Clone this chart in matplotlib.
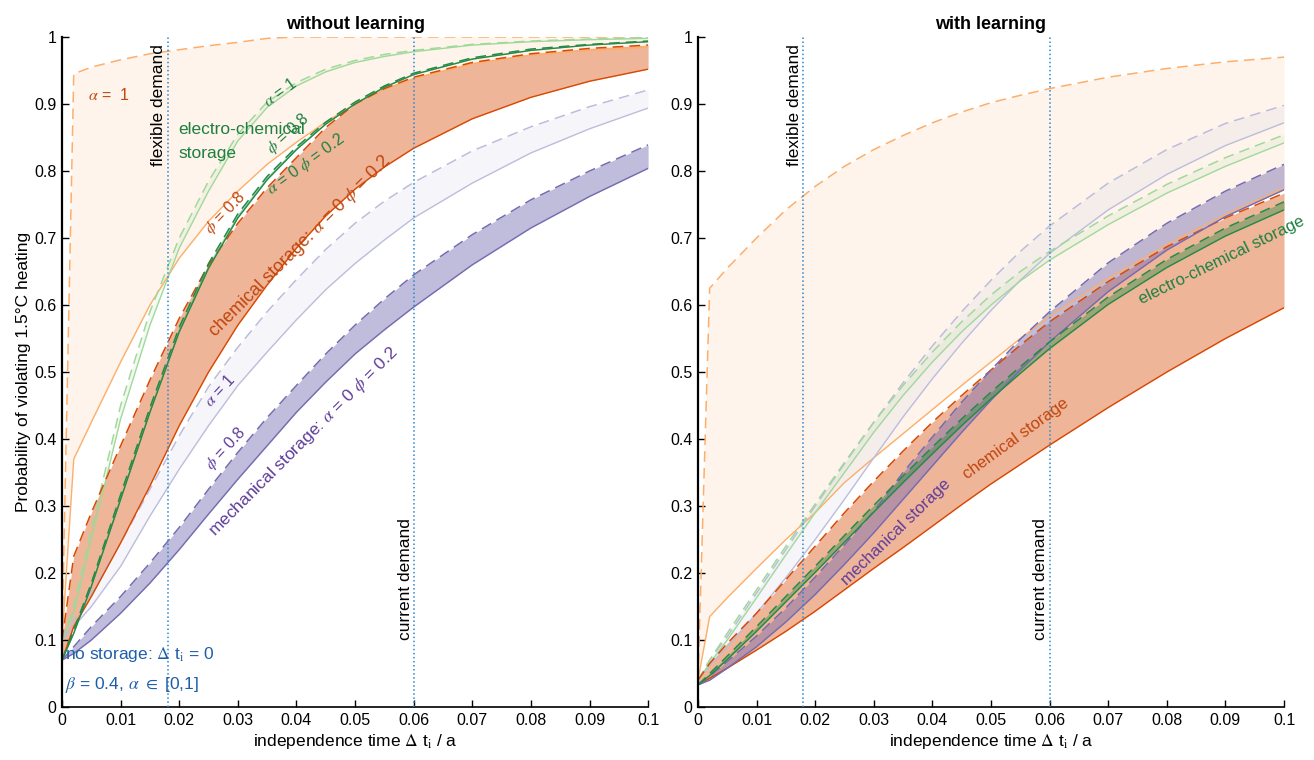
import numpy as np
import matplotlib.pyplot as plt

plt.rcParams['font.family'] = ['Liberation Sans', 'DejaVu Sans']
plt.rcParams['mathtext.fontset'] = 'stix'

# independence time grid (a)
dt = [0, 0.002, 0.005, 0.01, 0.015, 0.02, 0.025, 0.03, 0.035, 0.04,
      0.045, 0.05, 0.055, 0.06, 0.07, 0.08, 0.09, 0.1]

# ---- without learning ----
# chemical storage
nl_chem_a1_hi = [0.10, 0.945, 0.955, 0.966, 0.975, 0.981, 0.987, 0.992, 0.998, 1.0, 1.0, 1.0, 1.0, 1.0, 1.0, 1.0, 1.0, 1.0]
nl_chem_a1_lo = [0.10, 0.37, 0.425, 0.515, 0.60, 0.67, 0.725, 0.77, 0.81, 0.843, 0.873, 0.90, 0.922, 0.938, 0.96, 0.973, 0.98, 0.985]
nl_chem_a0_hi = [0.10, 0.225, 0.29, 0.39, 0.488, 0.58, 0.66, 0.722, 0.775, 0.82, 0.865, 0.90, 0.923, 0.94, 0.962, 0.975, 0.983, 0.988]
nl_chem_a0_lo = [0.07, 0.12, 0.165, 0.245, 0.33, 0.42, 0.50, 0.57, 0.63, 0.685, 0.733, 0.773, 0.806, 0.834, 0.878, 0.91, 0.934, 0.952]
# electro-chemical storage
nl_elec_a1_hi = [0.10, 0.15, 0.265, 0.45, 0.59, 0.70, 0.785, 0.855, 0.903, 0.932, 0.952, 0.965, 0.974, 0.98, 0.989, 0.994, 0.997, 0.999]
nl_elec_a1_lo = [0.10, 0.14, 0.25, 0.43, 0.57, 0.685, 0.77, 0.845, 0.895, 0.927, 0.948, 0.962, 0.971, 0.978, 0.988, 0.993, 0.996, 0.998]
nl_elec_a0_hi = [0.07, 0.115, 0.185, 0.317, 0.447, 0.567, 0.662, 0.736, 0.792, 0.836, 0.873, 0.903, 0.927, 0.946, 0.969, 0.982, 0.989, 0.994]
nl_elec_a0_lo = [0.07, 0.11, 0.18, 0.31, 0.44, 0.56, 0.655, 0.73, 0.787, 0.832, 0.87, 0.90, 0.925, 0.944, 0.967, 0.98, 0.988, 0.993]
# mechanical storage
nl_mech_a1_hi = [0.10, 0.13, 0.17, 0.245, 0.325, 0.405, 0.478, 0.537, 0.59, 0.638, 0.683, 0.722, 0.755, 0.783, 0.83, 0.866, 0.896, 0.921]
nl_mech_a1_lo = [0.10, 0.12, 0.15, 0.21, 0.285, 0.355, 0.42, 0.48, 0.53, 0.578, 0.623, 0.662, 0.697, 0.73, 0.782, 0.827, 0.863, 0.894]
nl_mech_a0_hi = [0.07, 0.09, 0.12, 0.165, 0.215, 0.268, 0.325, 0.38, 0.432, 0.48, 0.527, 0.57, 0.609, 0.645, 0.705, 0.757, 0.80, 0.839]
nl_mech_a0_lo = [0.07, 0.08, 0.10, 0.14, 0.185, 0.235, 0.288, 0.34, 0.39, 0.44, 0.485, 0.527, 0.563, 0.597, 0.66, 0.715, 0.762, 0.804]

# ---- with learning ----
l_chem_a1_hi = [0.04, 0.625, 0.655, 0.70, 0.742, 0.777, 0.807, 0.832, 0.853, 0.872, 0.888, 0.902, 0.913, 0.923, 0.94, 0.953, 0.963, 0.970]
l_chem_a1_lo = [0.04, 0.135, 0.163, 0.207, 0.25, 0.29, 0.335, 0.372, 0.408, 0.444, 0.48, 0.515, 0.55, 0.583, 0.64, 0.69, 0.735, 0.775]
l_chem_a0_hi = [0.04, 0.065, 0.095, 0.14, 0.19, 0.24, 0.29, 0.337, 0.382, 0.425, 0.465, 0.503, 0.54, 0.575, 0.635, 0.687, 0.73, 0.767]
l_chem_a0_lo = [0.033, 0.043, 0.058, 0.085, 0.113, 0.143, 0.175, 0.207, 0.238, 0.27, 0.302, 0.333, 0.362, 0.391, 0.447, 0.50, 0.55, 0.596]
l_elec_a1_hi = [0.04, 0.07, 0.11, 0.175, 0.24, 0.303, 0.365, 0.425, 0.48, 0.53, 0.575, 0.615, 0.65, 0.68, 0.733, 0.78, 0.82, 0.854]
l_elec_a1_lo = [0.04, 0.065, 0.10, 0.163, 0.227, 0.29, 0.35, 0.41, 0.465, 0.515, 0.56, 0.60, 0.636, 0.667, 0.72, 0.767, 0.807, 0.842]
l_elec_a0_hi = [0.033, 0.05, 0.076, 0.12, 0.165, 0.21, 0.256, 0.301, 0.345, 0.388, 0.43, 0.47, 0.508, 0.545, 0.612, 0.668, 0.715, 0.754]
l_elec_a0_lo = [0.033, 0.047, 0.071, 0.113, 0.157, 0.201, 0.246, 0.291, 0.335, 0.378, 0.42, 0.46, 0.498, 0.535, 0.601, 0.656, 0.703, 0.742]
l_mech_a1_hi = [0.04, 0.07, 0.105, 0.17, 0.235, 0.30, 0.363, 0.425, 0.484, 0.539, 0.59, 0.637, 0.68, 0.718, 0.782, 0.832, 0.871, 0.898]
l_mech_a1_lo = [0.04, 0.062, 0.09, 0.14, 0.193, 0.25, 0.31, 0.372, 0.433, 0.49, 0.543, 0.592, 0.637, 0.677, 0.742, 0.795, 0.838, 0.872]
l_mech_a0_hi = [0.033, 0.046, 0.068, 0.106, 0.148, 0.194, 0.242, 0.292, 0.35, 0.403, 0.455, 0.503, 0.549, 0.59, 0.663, 0.722, 0.77, 0.81]
l_mech_a0_lo = [0.033, 0.04, 0.058, 0.09, 0.127, 0.168, 0.213, 0.26, 0.31, 0.36, 0.41, 0.458, 0.503, 0.545, 0.62, 0.682, 0.732, 0.772]

flexible_demand = 0.018
current_demand = 0.06

chem_dark, chem_light = '#D94801', '#FDAE6B'
elec_dark, elec_light = '#238B45', '#A1D99B'
mech_dark, mech_light = '#756BB1', '#BCBDDC'
chem_txt, elec_txt, mech_txt = '#C0460E', '#1E8040', '#5E3C99'
demand_col = '#2A86CF'

fig, (ax1, ax2) = plt.subplots(1, 2, figsize=(13.14, 7.6), dpi=100)
fig.subplots_adjust(left=0.0472, right=0.9772, bottom=0.0697, top=0.9513, wspace=0.085)


def band(ax, hi, lo, col_line, col_fill, alpha):
    ax.fill_between(dt, lo, hi, color=col_fill, alpha=alpha, lw=0, zorder=1)
    ax.plot(dt, hi, '--', color=col_line, lw=1.1, dashes=(7, 4), zorder=2)
    ax.plot(dt, lo, '-', color=col_line, lw=1.0, zorder=2)


def panel(ax, d, title):
    band(ax, d['chem_a1_hi'], d['chem_a1_lo'], chem_light, chem_light, 0.13)
    band(ax, d['mech_a1_hi'], d['mech_a1_lo'], mech_light, mech_light, 0.12)
    band(ax, d['elec_a1_hi'], d['elec_a1_lo'], elec_light, elec_light, 0.12)
    band(ax, d['chem_a0_hi'], d['chem_a0_lo'], chem_dark, chem_dark, 0.4)
    band(ax, d['mech_a0_hi'], d['mech_a0_lo'], mech_dark, mech_dark, 0.45)
    band(ax, d['elec_a0_hi'], d['elec_a0_lo'], elec_dark, elec_dark, 0.4)

    for xv, lab, ypos, va in [(flexible_demand, 'flexible demand', 0.99, 'top'),
                              (current_demand, 'current demand', 0.10, 'bottom')]:
        ax.axvline(xv, ls=':', color=demand_col, lw=1.1, zorder=3)
        ax.text(xv - 0.0002, ypos, lab, rotation=90, ha='right', va=va,
                fontsize=12.5, zorder=4)

    ax.set_xlim(0, 0.1)
    ax.set_ylim(0, 1)
    ax.set_xticks(np.arange(0, 0.1001, 0.01))
    ax.set_yticks(np.arange(0, 1.001, 0.1))
    ax.xaxis.set_major_formatter(plt.FormatStrFormatter('%g'))
    ax.yaxis.set_major_formatter(plt.FormatStrFormatter('%g'))
    ax.tick_params(direction='in', length=5, width=1, labelsize=11.5, pad=4)
    for s in ['top', 'right']:
        ax.spines[s].set_visible(False)
    ax.spines['left'].set_linewidth(1.6)
    ax.spines['bottom'].set_linewidth(1.2)
    ax.set_xlabel(r'independence time $\Delta$ t$_{\rm i}$ / a', fontsize=12.5, labelpad=3)
    ax.set_title(title, fontweight='bold', fontsize=13, pad=6)


nl = dict(chem_a1_hi=nl_chem_a1_hi, chem_a1_lo=nl_chem_a1_lo,
          chem_a0_hi=nl_chem_a0_hi, chem_a0_lo=nl_chem_a0_lo,
          elec_a1_hi=nl_elec_a1_hi, elec_a1_lo=nl_elec_a1_lo,
          elec_a0_hi=nl_elec_a0_hi, elec_a0_lo=nl_elec_a0_lo,
          mech_a1_hi=nl_mech_a1_hi, mech_a1_lo=nl_mech_a1_lo,
          mech_a0_hi=nl_mech_a0_hi, mech_a0_lo=nl_mech_a0_lo)
wl = dict(chem_a1_hi=l_chem_a1_hi, chem_a1_lo=l_chem_a1_lo,
          chem_a0_hi=l_chem_a0_hi, chem_a0_lo=l_chem_a0_lo,
          elec_a1_hi=l_elec_a1_hi, elec_a1_lo=l_elec_a1_lo,
          elec_a0_hi=l_elec_a0_hi, elec_a0_lo=l_elec_a0_lo,
          mech_a1_hi=l_mech_a1_hi, mech_a1_lo=l_mech_a1_lo,
          mech_a0_hi=l_mech_a0_hi, mech_a0_lo=l_mech_a0_lo)

panel(ax1, nl, 'without learning')
panel(ax2, wl, 'with learning')
ax1.set_ylabel('Probability of violating 1.5°C heating', fontsize=12.5, labelpad=2)

# annotations, left panel
kw = dict(ha='center', va='center', rotation_mode='anchor', zorder=5)
ax1.text(0.0044, 0.913, r'$\alpha$ =  1', color=chem_txt, fontsize=11.5, ha='left', va='center')
ax1.text(0.0198, 0.844, 'electro-chemical\nstorage', color=elec_txt, fontsize=12.5,
         ha='left', va='center', linespacing=1.75)
ax1.text(0.0372, 0.918, r'$\alpha$ = 1', color=elec_txt, fontsize=11.5, rotation=36, **kw)
ax1.text(0.0386, 0.856, r'$\phi$ = 0.8', color=elec_txt, fontsize=11.5, rotation=42, **kw)
ax1.text(0.0415, 0.810, r'$\alpha$ = 0 $\phi$ = 0.2', color=elec_txt, fontsize=11.5, rotation=36, **kw)
ax1.text(0.0279, 0.738, r'$\phi$ = 0.8', color=chem_txt, fontsize=11.5, rotation=46, **kw)
ax1.text(0.0406, 0.688, r'chemical storage: $\alpha$ = 0 $\phi$ = 0.2', color=chem_txt,
         fontsize=13, rotation=45, **kw)
ax1.text(0.0268, 0.472, r'$\alpha$ = 1', color=mech_txt, fontsize=11.5, rotation=47, **kw)
ax1.text(0.0279, 0.386, r'$\phi$ = 0.8', color=mech_txt, fontsize=11.5, rotation=47, **kw)
ax1.text(0.0413, 0.396, r'mechanical storage: $\alpha$ = 0 $\phi$ = 0.2', color=mech_txt,
         fontsize=12.5, rotation=45, **kw)
ax1.text(0.0005, 0.078, r'no storage: $\Delta$ t$_{\rm i}$ = 0', color='#1F5FA8',
         fontsize=12.5, ha='left', va='center', zorder=5)
ax1.text(0.0005, 0.033, r'$\beta$ = 0.4, $\alpha$ $\in$ [0,1]', color='#1F5FA8',
         fontsize=12.5, ha='left', va='center', zorder=5)

# annotations, right panel
ax2.text(0.0894, 0.667, 'electro-chemical storage', color=elec_txt, fontsize=12,
         rotation=26, clip_on=False, **kw)
ax2.text(0.0542, 0.400, 'chemical storage', color=chem_txt, fontsize=12, rotation=36, **kw)
ax2.text(0.0338, 0.261, 'mechanical storage', color=mech_txt, fontsize=12, rotation=44, **kw)

fig.savefig('out.png', dpi=100)
